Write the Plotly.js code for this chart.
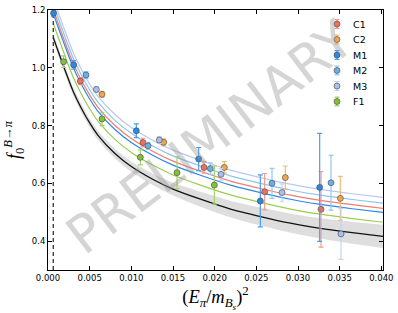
<!DOCTYPE html>
<html>
<head>
<meta charset="utf-8">
<script src="https://cdn.plot.ly/plotly-3.0.1.min.js"></script>
<style>html,body{margin:0;padding:0;background:#fff}#chart{width:398px;height:313px}</style>
</head>
<body>
<div id="chart"></div>
<script>
// ---- data ----
const seriesNames = ["C1", "C2", "M1", "M2", "M3", "F1"];

const c1X = [0.00388, 0.0114, 0.01872, 0.0260, 0.03276];
const c1Y = [0.954, 0.741, 0.655, 0.571, 0.510];
const c1Err = [0.012, 0.015, 0.020, 0.063, 0.131];

const c2X = [0.00648, 0.01388, 0.02116, 0.02848, 0.03508];
const c2Y = [0.908, 0.742, 0.655, 0.620, 0.548];
const c2Err = [0.010, 0.012, 0.020, 0.040, 0.076];

const m1X = [0.00067, 0.00308, 0.0106, 0.01808, 0.02548, 0.0326];
const m1Y = [1.189, 1.010, 0.782, 0.684, 0.539, 0.586];
const m1Err = [0.012, 0.015, 0.024, 0.040, 0.090, 0.187];

const m2X = [0.00456, 0.0120, 0.01948, 0.02688, 0.03396];
const m2Y = [0.975, 0.730, 0.651, 0.600, 0.602];
const m2Err = [0.012, 0.012, 0.020, 0.052, 0.095];

const m3X = [0.0058, 0.01336, 0.02076, 0.02808, 0.03516];
const m3Y = [0.925, 0.750, 0.631, 0.568, 0.425];
const m3Err = [0.010, 0.012, 0.020, 0.030, 0.088];

const f1X = [0.00187, 0.00648, 0.01108, 0.01548, 0.01996];
const f1Y = [1.021, 0.823, 0.690, 0.637, 0.594];
const f1Err = [0.020, 0.023, 0.026, 0.055, 0.066];

// fit curves
const curveX = [0.00063, 0.001, 0.0015, 0.002, 0.003, 0.004, 0.005, 0.006, 0.008, 0.010, 0.0125, 0.015, 0.0183, 0.022, 0.0255, 0.0291, 0.0325, 0.0365, 0.0403];
const physY  = [1.105, 1.075, 1.035, 0.995, 0.920, 0.860, 0.809, 0.766, 0.704, 0.658, 0.615, 0.580, 0.545, 0.510, 0.485, 0.462, 0.445, 0.429, 0.416];
const physHi = [1.119, 1.089, 1.049, 1.009, 0.934, 0.875, 0.824, 0.782, 0.721, 0.676, 0.635, 0.602, 0.571, 0.539, 0.516, 0.495, 0.480, 0.467, 0.456];
const physLo = [1.091, 1.061, 1.021, 0.981, 0.906, 0.845, 0.794, 0.750, 0.687, 0.640, 0.595, 0.558, 0.519, 0.481, 0.454, 0.429, 0.410, 0.391, 0.376];
const f1Curve = [1.154, 1.124, 1.084, 1.044, 0.969, 0.909, 0.858, 0.815, 0.753, 0.707, 0.664, 0.629, 0.594, 0.559, 0.534, 0.511, 0.494, 0.478, 0.465];
const m1Curve = [1.188, 1.158, 1.118, 1.078, 1.003, 0.943, 0.892, 0.849, 0.787, 0.741, 0.698, 0.663, 0.628, 0.593, 0.568, 0.545, 0.528, 0.512, 0.499];
const c1Curve = [1.202, 1.172, 1.132, 1.092, 1.017, 0.957, 0.906, 0.863, 0.801, 0.755, 0.712, 0.677, 0.642, 0.607, 0.582, 0.559, 0.542, 0.526, 0.513];
const m2Curve = [1.220, 1.190, 1.150, 1.110, 1.035, 0.975, 0.924, 0.881, 0.819, 0.773, 0.730, 0.695, 0.660, 0.625, 0.600, 0.577, 0.560, 0.544, 0.531];
const m3Curve = [1.240, 1.210, 1.170, 1.130, 1.055, 0.995, 0.944, 0.901, 0.839, 0.793, 0.750, 0.715, 0.680, 0.645, 0.620, 0.597, 0.580, 0.564, 0.551];

const pionLineX = [0.00063, 0.00063];
const pionLineY = [0.3, 1.2];

const xTicks = [0.000, 0.005, 0.010, 0.015, 0.020, 0.025, 0.030, 0.035, 0.040];
const yTicks = [0.4, 0.6, 0.8, 1.0, 1.2];

// ---- styles ----
const col = {
  C1: {m: "#ef6f5e", e: "#f59a8e", l: "#f47c6c"},
  C2: {m: "#eea650", e: "#f2bb78", l: "#eea650"},
  M1: {m: "#2a88e8", e: "#4b9cf0", l: "#2a88e8"},
  M2: {m: "#6ab0e8", e: "#93c8f2", l: "#8cc4f2"},
  M3: {m: "#a8bff0", e: "#c3d3f4", l: "#b8c8f0"},
  F1: {m: "#84c03c", e: "#a6d06a", l: "#9acd50"}
};

function curve(y, c, w) {
  return {x: curveX, y: y, mode: "lines", line: {color: c, width: w, shape: "spline", smoothing: 0.6},
          hoverinfo: "skip"};
}
function pts(name, x, y, err) {
  return {x: x, y: y, name: name, mode: "markers", type: "scatter",
          marker: {size: 6, color: col[name].m, line: {color: "#444", width: 0.6}},
          error_y: {type: "data", array: err, visible: true, color: col[name].e, thickness: 1.2, width: 2.5}};
}

const traces = [
  {x: curveX, y: physLo, mode: "lines", line: {width: 0, shape: "spline", smoothing: 0.6}, hoverinfo: "skip"},
  {x: curveX, y: physHi, mode: "lines", line: {width: 0, shape: "spline", smoothing: 0.6}, fill: "tonexty",
   fillcolor: "rgba(205,205,205,0.65)", hoverinfo: "skip"},
  curve(m3Curve, col.M3.l, 1.2),
  curve(m2Curve, col.M2.l, 1.2),
  curve(c1Curve, col.C1.l, 1.2),
  curve(m1Curve, col.M1.l, 1.2),
  curve(f1Curve, col.F1.l, 1.2),
  curve(physY, "#111", 1.3),
  {x: pionLineX, y: pionLineY, mode: "lines", line: {color: "#222", width: 1.2, dash: "4px,3px"}, hoverinfo: "skip"},
  pts("C1", c1X, c1Y, c1Err),
  pts("C2", c2X, c2Y, c2Err),
  pts("M1", m1X, m1Y, m1Err),
  pts("M2", m2X, m2Y, m2Err),
  pts("M3", m3X, m3Y, m3Err),
  pts("F1", f1X, f1Y, f1Err)
];

// hand-made legend (marker + small error bar) on an overlay axis pair in [0,1]
const legX = 0.8627, legTop = 0.946, legStep = 0.0596, legTextX = 0.905;
const annotations = [];
seriesNames.forEach(function (n, i) {
  const yy = legTop - i * legStep;
  traces.push({x: [legX], y: [yy], xaxis: "x2", yaxis: "y2", mode: "markers", hoverinfo: "skip",
    marker: {size: 6, color: col[n].m, line: {color: "#444", width: 0.6}},
    error_y: {type: "constant", value: 0.017, visible: true, color: col[n].e, thickness: 1.2, width: 2.5}});
  annotations.push({text: n, xref: "x2", yref: "y2", x: legTextX, y: yy, xanchor: "left", yanchor: "middle",
    showarrow: false, font: {family: "DejaVu Sans", size: 9.5, color: "#000"}});
});
annotations.push({
  text: "PRELIMINARY", xref: "paper", yref: "paper", x: 0.485, y: 0.51,
  showarrow: false, textangle: -37.5,
  font: {family: "DejaVu Sans", size: 52, color: "rgba(150,150,150,0.40)"}
});

const axisCommon = {
  showline: true, linecolor: "#000", linewidth: 1, mirror: "allticks",
  ticks: "inside", ticklen: 4, tickcolor: "#000", tickwidth: 1,
  showgrid: false, zeroline: false,
  tickfont: {family: "DejaVu Sans", size: 8.5, color: "#000"}
};

const layout = {
  width: 398, height: 313,
  margin: {l: 48, r: 15, t: 10, b: 43},
  paper_bgcolor: "#fff", plot_bgcolor: "#fff",
  showlegend: false,
  xaxis: Object.assign({}, axisCommon, {
    range: [0, 0.0402], tickvals: xTicks, tickformat: ".3f",
    title: {text: "(<i>E</i><sub><i>π</i></sub>/<i>m</i><sub><i>B</i><sub><i>s</i></sub></sub>)<sup>2</sup>",
            font: {family: "Liberation Serif", size: 18.5, color: "#000"}, standoff: 7}
  }),
  yaxis: Object.assign({}, axisCommon, {
    range: [0.3, 1.2], tickvals: yTicks, tickformat: ".1f",
    title: {text: "<i>f</i><sub>0</sub><sup><i>B</i>→<i>π</i></sup>",
            font: {family: "Liberation Serif", size: 18, color: "#000"}, standoff: 6}
  }),
  xaxis2: {overlaying: "x", range: [0, 1], visible: false, fixedrange: true},
  yaxis2: {overlaying: "y", range: [0, 1], visible: false, fixedrange: true},
  annotations: annotations
};

Plotly.newPlot("chart", traces, layout, {displayModeBar: false, staticPlot: true});
</script>
</body>
</html>
